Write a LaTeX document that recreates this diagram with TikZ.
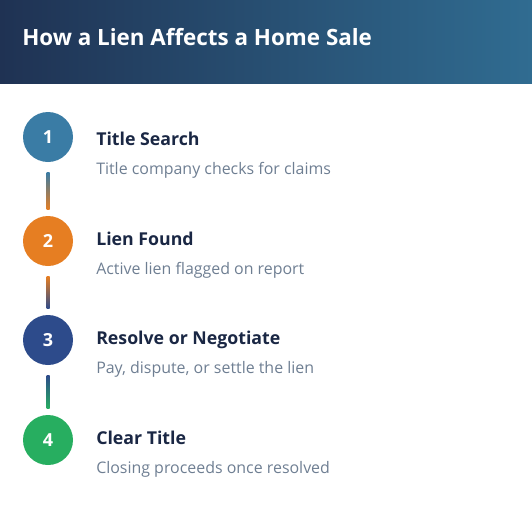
\documentclass[tikz,border=0pt]{standalone}
\usepackage{fontspec}
\setmainfont{Open Sans}
\usetikzlibrary{calc}

\definecolor{headDark}{HTML}{1F3253}
\definecolor{headLight}{HTML}{306C91}
\definecolor{stepBlue}{HTML}{3A7CA5}
\definecolor{stepOrange}{HTML}{E67E22}
\definecolor{stepNavy}{HTML}{2D4B8B}
\definecolor{stepGreen}{HTML}{27AE60}
\definecolor{headText}{HTML}{1A2744}
\definecolor{descText}{HTML}{6E7E92}

\begin{document}
\begin{tikzpicture}[x = 0.75pt, y = -0.75pt]
\tikzstyle{stepStyle} = [shape = circle, minimum size = 37.5pt, inner sep = 0pt, text = white, font = \bfseries\fontsize{13.5}{15}\selectfont]
\tikzstyle{headStyle} = [anchor = base west, inner sep = 0pt, text = headText, font = \bfseries\fontsize{13.3}{16}\selectfont]
\tikzstyle{descStyle} = [anchor = base west, inner sep = 0pt, text = descText, font = \fontsize{11.95}{14}\selectfont]
\tikzstyle{titleStyle} = [anchor = base west, inner sep = 0pt, text = white, font = \bfseries\fontsize{16.8}{19}\selectfont]
\useasboundingbox (0,0) rectangle (532,507);
% header band
\shade[left color = headDark, right color = headLight] (0,0) rectangle (532,83);
\node[titleStyle] (title) at (22,45) {How a Lien Affects a Home Sale};
% steps
\node[stepStyle, fill = stepBlue] (s1) at (48,137) {1};
\node[stepStyle, fill = stepOrange] (s2) at (48,241) {2};
\node[stepStyle, fill = stepNavy] (s3) at (48,340) {3};
\node[stepStyle, fill = stepGreen] (s4) at (48,440) {4};
\node[headStyle] (h1) at (96,145) {Title Search};
\node[descStyle] (d1) at (96,174) {Title company checks for claims};
\node[headStyle] (h2) at (96,245) {Lien Found};
\node[descStyle] (d2) at (96,274) {Active lien flagged on report};
\node[headStyle] (h3) at (96,344) {Resolve or Negotiate};
\node[descStyle] (d3) at (96,373) {Pay, dispute, or settle the lien};
\node[headStyle] (h4) at (96,444) {Clear Title};
\node[descStyle] (d4) at (96,473) {Closing proceeds once resolved};
% connectors
\shade[top color = stepBlue, bottom color = stepOrange] ($(s1.south)+(-1.5,10)$) rectangle ($(s2.north)+(1.5,-6)$);
\shade[top color = stepOrange, bottom color = stepNavy] ($(s2.south)+(-1.5,10)$) rectangle ($(s3.north)+(1.5,-6)$);
\shade[top color = stepNavy, bottom color = stepGreen] ($(s3.south)+(-1.5,10)$) rectangle ($(s4.north)+(1.5,-6)$);
\end{tikzpicture}
\end{document}
